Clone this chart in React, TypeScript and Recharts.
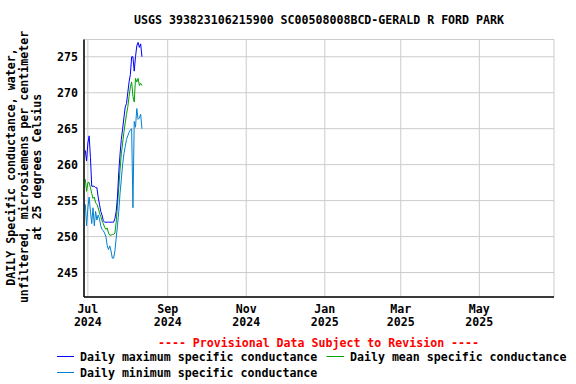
import React from "react";
import { LineChart, Line, XAxis, YAxis, CartesianGrid } from "recharts";

// daily values, Jun 29 - Aug 12 2024
const dates = [
  "2024-06-29", "2024-06-30",
  "2024-07-01", "2024-07-02", "2024-07-03", "2024-07-04", "2024-07-05", "2024-07-06", "2024-07-07",
  "2024-07-08", "2024-07-09", "2024-07-10", "2024-07-11", "2024-07-12", "2024-07-13", "2024-07-14",
  "2024-07-15", "2024-07-16", "2024-07-17", "2024-07-18", "2024-07-19", "2024-07-20", "2024-07-21",
  "2024-07-22", "2024-07-23", "2024-07-24", "2024-07-25", "2024-07-26", "2024-07-27", "2024-07-28",
  "2024-07-29", "2024-07-30", "2024-07-31",
  "2024-08-01", "2024-08-02", "2024-08-03", "2024-08-04", "2024-08-05", "2024-08-06", "2024-08-07",
  "2024-08-08", "2024-08-09", "2024-08-10", "2024-08-11", "2024-08-12",
];

const dailyMax = [
  262, 260.5, 263, 264, 261, 257, 257, 257, 256.8, 256.8, 255.5, 254.5, 253.5, 253, 252.2,
  252, 252, 252, 252, 252, 252, 252, 252, 252.5, 253.5, 255.5, 259, 261.5, 263.5, 265,
  266.5, 268, 268.5, 270, 271.5, 272.5, 275, 275, 273, 275, 276.5, 277, 276.3, 276.8, 275,
];

const dailyMean = [
  258, 256.3, 257.5, 257.5, 256.8, 256, 255.3, 255.5, 254.7, 254.5, 254, 253.3, 252.8, 252.2, 251.8,
  251.3, 251, 251.2, 250.5, 250.2, 250.2, 250.3, 250.3, 250.5, 252, 254.3, 256.8, 259.3, 261.5, 263,
  264.5, 265.8, 267, 268, 269.5, 270.8, 271.5, 269.5, 268.7, 272, 271.5, 272, 271, 271.3, 271,
];

const dailyMin = [
  254.5, 251.5, 254, 255.5, 253.5, 251.8, 254, 251.5, 253.5, 252.3, 253, 252.5, 251.5, 251, 250.8,
  250.5, 250, 248.8, 248.2, 248.7, 248, 247, 247, 248, 249.8, 251.5, 253.5, 256, 258, 260,
  261.5, 262.5, 263.5, 264, 264.5, 264.8, 265, 254, 266, 265.2, 267.8, 266.3, 266.5, 267, 265,
];

const xTickDates = ["2024-07-01", "2024-09-01", "2024-11-01", "2025-01-01", "2025-03-01", "2025-05-01"];
const monthLabels = ["Jul", "Sep", "Nov", "Jan", "Mar", "May"];
const yearLabels = ["2024", "2024", "2024", "2025", "2025", "2025"];
const yTicks = [245, 250, 255, 260, 265, 270, 275];
const xRange = ["2024-06-28", "2025-06-28"];
const yRange = [241.6, 277.4];

const FONT = '"DejaVu Sans Mono", "Liberation Mono", monospace';
const MAX_COLOR = "#0000ff";
const MEAN_COLOR = "#00a000";
const MIN_COLOR = "#0080d0";

const toTime = (s: string) => Date.parse(s + "T00:00:00Z");

const data = dates.map((d, i) => ({
  t: toTime(d),
  max: dailyMax[i],
  mean: dailyMean[i],
  min: dailyMin[i],
}));

const xTicks = xTickDates.map(toTime);
const xDomain = xRange.map(toTime);

function XTick({ x, y, payload }: any) {
  const i = xTicks.indexOf(payload.value);
  return (
    <text x={x} textAnchor="middle" fontFamily={FONT} fontWeight="bold" fontSize={11.6} fill="#000">
      <tspan x={x} y={y + 16}>{monthLabels[i]}</tspan>
      <tspan x={x} y={y + 28.5}>{yearLabels[i]}</tspan>
    </text>
  );
}

function YTick({ x, y, payload }: any) {
  return (
    <text x={x} y={y + 4} textAnchor="end" fontFamily={FONT} fontWeight="bold" fontSize={11.6} fill="#000">
      {payload.value}
    </text>
  );
}

export default function App() {
  return (
    <div style={{ position: "absolute", left: 0, top: 0, width: 576, height: 384, background: "#fff" }}>
      <LineChart
        width={576}
        height={384}
        data={data}
        margin={{ top: 39.5, right: 22, bottom: 57, left: 40 }}
      >
        <CartesianGrid stroke="#cccccc" strokeWidth={1} />
        <XAxis
          dataKey="t"
          type="number"
          domain={xDomain}
          ticks={xTicks}
          interval={0}
          allowDataOverflow
          height={30}
          tickLine={false}
          tickSize={0}
          tickMargin={0}
          tick={<XTick />}
          axisLine={{ stroke: "#000", strokeWidth: 1.5 }}
        />
        <XAxis
          xAxisId="top"
          orientation="top"
          dataKey="t"
          type="number"
          domain={xDomain}
          height={0}
          tick={false}
          tickLine={false}
          axisLine={{ stroke: "#000", strokeWidth: 1.5 }}
        />
        <YAxis
          type="number"
          domain={yRange}
          ticks={yTicks}
          interval={0}
          allowDataOverflow
          width={44}
          tickLine={false}
          tickSize={0}
          tickMargin={6}
          tick={<YTick />}
          axisLine={{ stroke: "#000", strokeWidth: 1.5 }}
        />
        <YAxis
          yAxisId="right"
          orientation="right"
          type="number"
          domain={yRange}
          width={0}
          tick={false}
          tickLine={false}
          axisLine={{ stroke: "#000", strokeWidth: 1.5 }}
        />
        <Line type="linear" dataKey="min" stroke={MIN_COLOR} strokeWidth={1} dot={false} isAnimationActive={false} />
        <Line type="linear" dataKey="mean" stroke={MEAN_COLOR} strokeWidth={1} dot={false} isAnimationActive={false} />
        <Line type="linear" dataKey="max" stroke={MAX_COLOR} strokeWidth={1} dot={false} isAnimationActive={false} />
      </LineChart>

      <svg
        width={576}
        height={384}
        style={{ position: "absolute", left: 0, top: 0, pointerEvents: "none" }}
        fontFamily={FONT}
        fontWeight="bold"
        fontSize={11.6}
      >
        <text x={319} y={24} textAnchor="middle" fill="#000">
          USGS 393823106215900 SC00508008BCD-GERALD R FORD PARK
        </text>

        <g transform="translate(0,167) rotate(-90)" textAnchor="middle" fill="#000">
          <text x={0} y={15}>DAILY Specific conductance, water,</text>
          <text x={0} y={28}>unfiltered, microsiemens per centimeter</text>
          <text x={0} y={41}>at 25 degrees Celsius</text>
        </g>

        <text x={318.5} y={346.5} textAnchor="middle" fill="#ff0000">
          ---- Provisional Data Subject to Revision ----
        </text>

        <line x1={57} x2={74} y1={356.5} y2={356.5} stroke={MAX_COLOR} strokeWidth={1} />
        <text x={80} y={361} fill="#000">Daily maximum specific conductance</text>
        <line x1={326.5} x2={344} y1={356.5} y2={356.5} stroke={MEAN_COLOR} strokeWidth={1} />
        <text x={350} y={361} fill="#000">Daily mean specific conductance</text>
        <line x1={57} x2={74} y1={372.5} y2={372.5} stroke={MIN_COLOR} strokeWidth={1} />
        <text x={80} y={377} fill="#000">Daily minimum specific conductance</text>
      </svg>
    </div>
  );
}
